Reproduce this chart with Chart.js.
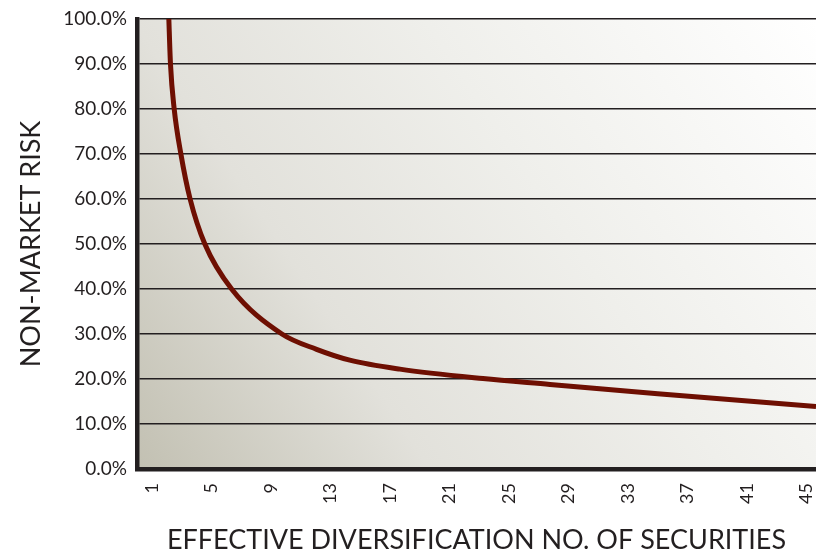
<!DOCTYPE html>
<html>
<head>
<meta charset="utf-8">
<script src="https://cdn.jsdelivr.net/npm/chart.js@4/dist/chart.umd.min.js"></script>
<style>
  html, body { margin: 0; padding: 0; background: #ffffff; }
  #wrap { width: 816px; height: 554px; position: relative; }
</style>
</head>
<body>
<div id="wrap"><canvas id="risk-chart"></canvas></div>
<script>
// points (number of securities -> non-market risk %)
const securities = [2.08, 2.14, 2.25, 2.5, 2.95, 3.57, 4.56, 6.36, 9.74, 12.07, 14.3, 17.67, 23.25, 27.76, 35.0, 45.64];
const riskValues = [106, 100, 90, 80, 70, 60, 50, 40, 30, 26.6, 24.2, 22.2, 20.1, 18.8, 16.7, 13.9];

const xTickValues = [1, 5, 9, 13, 17, 21, 25, 29, 33, 37, 41, 45];
const yTickLabels = ['0.0%', '10.0%', '20.0%', '30.0%', '40.0%', '50.0%', '60.0%', '70.0%', '80.0%', '90.0%', '100.0%'];

const FONT = 'Lato, "Open Sans", sans-serif';
const INK = '#231f20';

// shaded plot background
const plotBackground = {
  id: 'plotBackground',
  beforeDraw(chart) {
    const { ctx, chartArea: a } = chart;
    const g = ctx.createLinearGradient(a.left, a.bottom, a.right, a.top);
    g.addColorStop(0, '#c2c0b2');
    g.addColorStop(0.3, '#e2e1db');
    g.addColorStop(0.6, '#efefeb');
    g.addColorStop(1, '#ffffff');
    ctx.save();
    ctx.fillStyle = g;
    ctx.fillRect(a.left, a.top, a.right - a.left, a.bottom - a.top);
    ctx.restore();
  }
};

const ctx = document.getElementById('risk-chart').getContext('2d');

new Chart(ctx, {
  type: 'line',
  data: {
    datasets: [{
      data: securities.map((x, i) => ({ x: x, y: riskValues[i] })),
      borderColor: '#6e0f02',
      borderWidth: 5,
      pointRadius: 0,
      cubicInterpolationMode: 'monotone',
      fill: false,
      clip: 0,
    }],
  },
  options: {
    responsive: true,
    maintainAspectRatio: false,
    animation: false,
    layout: { padding: { top: 19, right: 0, bottom: 0, left: 0 } },
    plugins: {
      legend: { display: false },
      tooltip: { enabled: false },
    },
    scales: {
      x: {
        type: 'linear',
        min: 0,
        max: 45.64,
        afterBuildTicks: (scale) => {
          scale.ticks = xTickValues.map(v => ({ value: v }));
        },
        afterFit: (scale) => {
          scale.height = 85;
          scale.paddingLeft = 0;
          scale.paddingRight = 0;
        },
        grid: { display: false, drawTicks: true, tickLength: 12 },
        border: { display: true, width: 4.5, color: INK },
        ticks: {
          minRotation: 90,
          maxRotation: 90,
          padding: 2,
          color: INK,
          font: { family: FONT, size: 18 },
        },
        title: {
          display: true,
          text: 'EFFECTIVE DIVERSIFICATION NO. OF SECURITIES',
          color: INK,
          font: { family: FONT, size: 27, lineHeight: 1 },
          padding: { top: 0, bottom: 0 },
        },
      },
      y: {
        min: 0,
        max: 100,
        afterBuildTicks: (scale) => {
          scale.ticks = yTickLabels.map((t, i) => ({ value: i * 10 }));
        },
        afterFit: (scale) => {
          scale.width = 137;
          scale.paddingTop = 0;
          scale.paddingBottom = 0;
        },
        grid: { color: INK, lineWidth: 1.5, drawTicks: false },
        border: { display: true, width: 4.5, color: INK },
        ticks: {
          padding: 10,
          color: INK,
          font: { family: FONT, size: 19 },
          callback: (v, i) => yTickLabels[i],
        },
        title: {
          display: true,
          text: 'NON-MARKET RISK',
          color: INK,
          font: { family: FONT, size: 27, lineHeight: 1.2 },
          padding: { top: 15, bottom: 0 },
        },
      },
    },
  },
  plugins: [plotBackground],
});
</script>
</body>
</html>
